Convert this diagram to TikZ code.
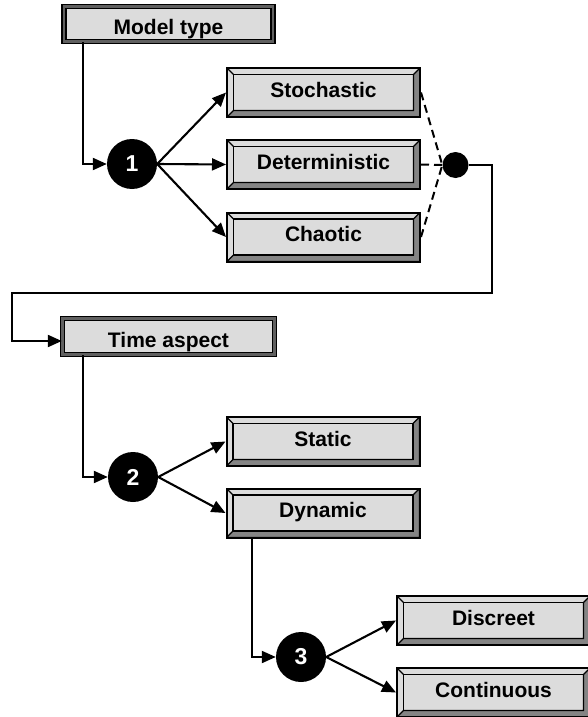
\documentclass[tikz,border=0pt]{standalone}
\usepackage{fontspec}
\setmainfont{Liberation Sans}
\usetikzlibrary{arrows.meta,calc}
\definecolor{face}{HTML}{DCDCDC}
\definecolor{bev}{HTML}{848484}
\definecolor{band}{HTML}{606060}
\begin{document}
\begin{tikzpicture}[x=1pt,y=-1pt,
  lbl/.style={font=\fontsize{21}{25}\selectfont\bfseries},
  bevbox/.style={lbl,rectangle,draw=black,line width=2pt,fill=face,
    minimum width=193pt,minimum height=49pt,inner sep=0pt,
    text height=15pt,text depth=6pt,
    path picture={
      \path (path picture bounding box.south west) coordinate (bsw)
            (path picture bounding box.north east) coordinate (bne)
            (path picture bounding box.south east) coordinate (bse)
            (path picture bounding box.north west) coordinate (bnw);
      \filldraw[fill=bev,draw=black,line width=1.3pt]
        (bne) -- (bse) -- (bsw) -- ($(bsw)+(6.5pt,6.5pt)$) --
        ($(bse)+(-6.5pt,6.5pt)$) -- ($(bne)+(-6.5pt,-6.5pt)$) -- cycle;
      \draw[line width=1.3pt] ($(bsw)+(6.5pt,6.5pt)$) rectangle ($(bne)+(-6.5pt,-6.5pt)$);
      \draw[line width=1.3pt] (bnw) -- ($(bnw)+(6.5pt,-6.5pt)$);
    }},
  headbox/.style={lbl,rectangle,draw=black,line width=1.4pt,
    double=band,double distance=2.4pt,fill=face,
    minimum width=209pt,minimum height=35pt,inner sep=0pt,
    text height=22pt,text depth=0pt},
  numcirc/.style={lbl,circle,fill=black,minimum size=50pt,inner sep=0pt,text=white,
    font=\fontsize{23}{26}\selectfont\bfseries},
  dotc/.style={circle,fill=black,minimum size=26pt,inner sep=0pt},
  conn/.style={line width=2.1pt,-{Triangle[length=14pt,width=12pt]}},
  dashconn/.style={line width=2pt,dash pattern=on 8pt off 5pt}
]
\useasboundingbox (0,0) rectangle (587,717);

% nodes
\node[headbox] (mt) at (168.5,24) {Model type};
\node[bevbox] (sto) at (323.5,92.5) {Stochastic};
\node[bevbox] (det) at (323.5,164.5) {Deterministic};
\node[bevbox] (cha) at (323.5,237) {Chaotic};
\node[numcirc] (n1) at (132,164) {1};
\node[dotc] (dot) at (455.5,165) {};

\node[headbox,minimum width=212pt,minimum height=36pt] (ta) at (168.5,336.5) {Time aspect};
\node[bevbox] (sta) at (323,441.5) {Static};
\node[bevbox] (dyn) at (323,513) {Dynamic};
\node[numcirc] (n2) at (133,477) {2};

\node[bevbox] (dis) at (493.5,620.5) {Discreet};
\node[bevbox] (con) at (493.5,692.5) {Continuous};
\node[numcirc] (n3) at (301,657) {3};

% routing points
\coordinate (k1) at (83,164);
\coordinate (k2) at (83,477);
\coordinate (k3) at (252,657);
\coordinate (r1) at (492,165);
\coordinate (r2) at (492,293);
\coordinate (r3) at (12,293);
\coordinate (r4) at (12,341);

% connectors
\draw[conn] (mt.south -| k1) -- (k1) -- (n1.west);
\draw[conn] (n1.east) -- (sto.west);
\draw[conn] (n1.east) -- (det.west);
\draw[conn] (n1.east) -- (cha.west);
\draw[dashconn] (sto.east) -- (dot.west);
\draw[dashconn] (det.east) -- (dot.west);
\draw[dashconn] (cha.east) -- (dot.west);
\draw[conn] (dot.east) -- (r1) -- (r2) -- (r3) -- (r4) -- (r4 -| ta.west);

\draw[conn] (ta.south -| k2) -- (k2) -- (n2.west);
\draw[conn] (n2.east) -- (sta.west);
\draw[conn] (n2.east) -- (dyn.west);

\draw[conn] (dyn.south -| k3) -- (k3) -- (n3.west);
\draw[conn] (n3.east) -- (dis.west);
\draw[conn] (n3.east) -- (con.west);
\end{tikzpicture}
\end{document}
